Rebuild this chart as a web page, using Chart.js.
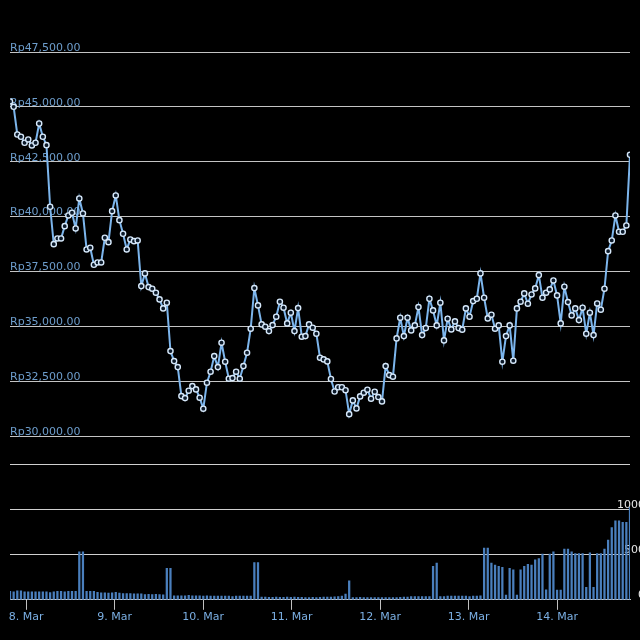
<!DOCTYPE html>
<html>
<head>
<meta charset="utf-8">
<script src="https://cdn.jsdelivr.net/npm/chart.js@4"></script>
<style>
  html, body { margin: 0; padding: 0; background: #000; }
  #wrap { width: 640px; height: 640px; }
</style>
</head>
<body>
<div id="wrap"><canvas id="priceChart" width="640" height="640"></canvas></div>
<script>
        // hourly prices (Rp), oldest first; last one is the live price
        const prices = [
            45246, 45004, 43742, 43638, 43364, 43515, 43242, 43364, 44243, 43638,
            43256, 40449, 38746, 39005, 39005, 39566, 40053, 40176, 39461, 40827,
            40144, 38504, 38582, 37807, 37912, 37912, 39037, 38837, 40249, 40964,
            39839, 39219, 38504, 38960, 38882, 38914, 36833, 37411, 36787, 36714,
            36532, 36227, 35817, 36076, 33872, 33416, 33143, 31822, 31731, 32068,
            32278, 32127, 31749, 31248, 32432, 32933, 33644, 33143, 34254, 33389,
            32615, 32642, 32933, 32615, 33189, 33799, 34892, 36742, 35953, 35088,
            34983, 34783, 35056, 35439, 36122, 35849, 35133, 35621, 34783, 35830,
            34528, 34555, 35088, 34938, 34664, 33571, 33494, 33403, 32600, 32030,
            32225, 32225, 32090, 31000, 31626, 31262, 31808, 31977, 32114, 31704,
            32023, 31777, 31581, 33189, 32779, 32706, 34450, 35393, 34555, 35393,
            34815, 35042, 35876, 34600, 34919, 36258, 35726, 35042, 36076, 34359,
            35348, 34860, 35225, 34919, 34846, 35817, 35439, 36149, 36258, 37411,
            36304, 35361, 35530, 34892, 35042, 33389, 34555, 35042, 33435, 35817,
            36122, 36500, 36031, 36454, 36728, 37334, 36304, 36532, 36682, 37092,
            36409, 35133, 36805, 36104, 35498, 35817, 35284, 35849, 34664, 35621,
            34600, 36044, 35758, 36714, 38427, 38914, 40053, 39310, 39310, 39597,
            42818
        ];

        const volumes = [
            93, 89, 100, 100, 89, 89, 89, 89, 89, 89,
            89, 81, 89, 93, 93, 89, 93, 93, 93, 533,
            533, 93, 93, 93, 82, 78, 78, 75, 78, 82,
            75, 70, 70, 70, 65, 65, 65, 58, 62, 58,
            62, 58, 55, 350, 350, 45, 45, 45, 45, 50,
            45, 45, 45, 40, 45, 40, 40, 40, 40, 40,
            40, 35, 40, 40, 40, 40, 40, 415, 415, 30,
            30, 28, 28, 30, 28, 28, 30, 28, 30, 28,
            28, 26, 26, 28, 26, 28, 30, 30, 30, 32,
            35, 40, 63, 211, 26, 26, 28, 26, 24, 24,
            26, 26, 26, 24, 24, 24, 26, 28, 30, 30,
            35, 35, 37, 35, 35, 37, 371, 408, 37, 37,
            40, 40, 40, 40, 40, 40, 37, 40, 42, 45,
            574, 574, 408, 385, 371, 360, 52, 349, 333, 52,
            333, 371, 393, 385, 444, 459, 507, 111, 507, 533,
            107, 107, 563, 563, 533, 514, 514, 514, 138, 522,
            138, 514, 514, 563, 663, 804, 878, 878, 860, 860,
            1027
        ];

        // day ticks: hours after 8 Mar 00:00
        const dayHours = [0, 24, 48, 72, 96, 120, 144];
        const dayLabels = ['8. Mar', '9. Mar', '10. Mar', '11. Mar', '12. Mar', '13. Mar', '14. Mar'];
        const priceTicks = [30000, 32500, 35000, 37500, 40000, 42500, 45000, 47500];
        const volumeTicks = [0, 500, 1000, 1500];

        const fmtRp = v => 'Rp' + v.toLocaleString('en-US', { minimumFractionDigits: 2, maximumFractionDigits: 2 });

        Chart.defaults.font.family = '"DejaVu Sans", sans-serif';
        Chart.defaults.font.size = 11;

        const blackBg = {
            id: 'blackBg',
            beforeDraw(chart) {
                const c = chart.ctx;
                c.save();
                c.fillStyle = '#000';
                c.fillRect(0, 0, chart.width, chart.height);
                c.restore();
            }
        };

        const ctx = document.getElementById('priceChart').getContext('2d');

        const chart = new Chart(ctx, {
            data: {
                datasets: [
                    {
                        type: 'line',
                        data: prices.map((p, i) => ({ x: i, y: p })),
                        xAxisID: 'x',
                        yAxisID: 'price',
                        borderColor: '#7cb5ec',
                        borderWidth: 2,
                        tension: 0,
                        pointRadius: 2.6,
                        pointBorderWidth: 1.4,
                        pointBorderColor: '#d6e8fa',
                        pointBackgroundColor: '#0c1a2a',
                        order: 1
                    },
                    {
                        type: 'bar',
                        data: volumes.map((v, i) => ({ x: i, y: v })),
                        xAxisID: 'x',
                        yAxisID: 'volume',
                        backgroundColor: '#4a7fbd',
                        barThickness: 1.6,
                        order: 2
                    }
                ]
            },
            options: {
                responsive: false,
                animation: false,
                // the volume labels hang past the right edge, like the original
                layout: { padding: { top: 52, left: 10, right: -20, bottom: 15 } },
                plugins: {
                    legend: { display: false },
                    tooltip: { enabled: false }
                },
                scales: {
                    x: {
                        type: 'linear',
                        display: false,
                        offset: false,
                        min: 0,
                        max: prices.length - 1
                    },
                    time: {
                        type: 'linear',
                        position: 'bottom',
                        offset: false,
                        min: -4.35,
                        max: 163.75,
                        afterBuildTicks: axis => { axis.ticks = dayHours.map(h => ({ value: h })); },
                        grid: {
                            drawOnChartArea: false,
                            drawTicks: true,
                            tickLength: 10,
                            color: '#c0c0c0'
                        },
                        border: { display: true, color: '#c8c8c8', width: 1 },
                        ticks: {
                            autoSkip: false,
                            maxRotation: 0,
                            padding: 1,
                            color: '#7aaee2',
                            callback: v => dayLabels[dayHours.indexOf(v)]
                        }
                    },
                    price: {
                        type: 'linear',
                        position: 'left',
                        min: 22540,
                        max: 47500,
                        afterBuildTicks: axis => { axis.ticks = priceTicks.map(v => ({ value: v })); },
                        grid: { color: '#c4c4c4', drawTicks: false, lineWidth: 1 },
                        border: { display: false },
                        ticks: {
                            mirror: true,
                            padding: 0,
                            labelOffset: -4,
                            color: '#6d9dcc',
                            callback: v => fmtRp(v)
                        }
                    },
                    volume: {
                        type: 'linear',
                        position: 'right',
                        min: 0,
                        max: 6090,
                        afterBuildTicks: axis => { axis.ticks = volumeTicks.map(v => ({ value: v })); },
                        grid: { color: '#d0d0d0', drawTicks: false, lineWidth: 1 },
                        border: { display: false },
                        ticks: {
                            mirror: true,
                            padding: 15,
                            labelOffset: -5,
                            color: '#e6e6e6',
                            callback: v => (v === 1500 ? '' : String(v))
                        }
                    }
                }
            },
            plugins: [blackBg]
        });
</script>
</body>
</html>
